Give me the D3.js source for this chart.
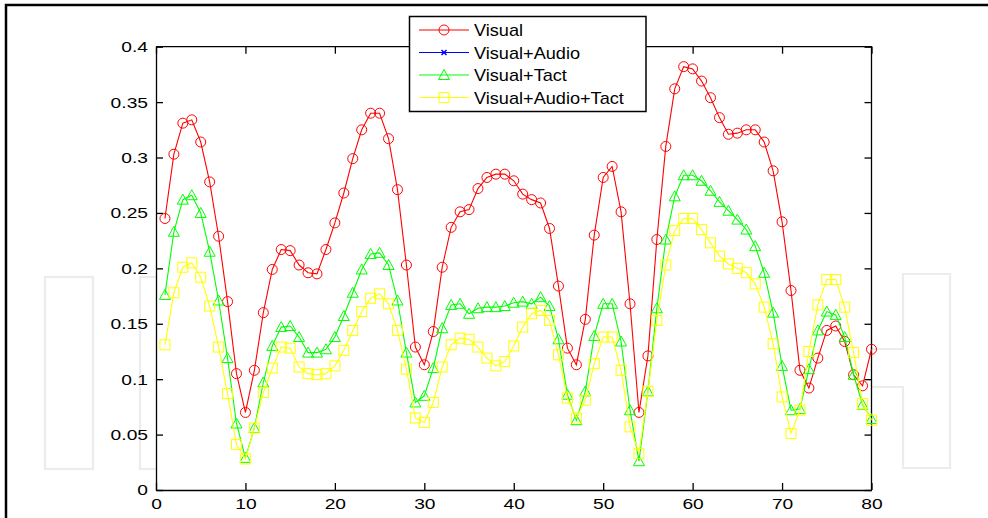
<!DOCTYPE html>
<html><head><meta charset="utf-8">
<script src="https://cdn.jsdelivr.net/npm/d3@7"></script>
<style>
html,body{margin:0;padding:0;background:#fff;}
svg{display:block;}
text{font-family:"Liberation Sans",Arial,sans-serif;fill:#000;}
</style></head>
<body>
<svg id="chart" width="988" height="518"></svg>
<script>
// ---- data ----
const xValues = d3.range(1, 81);
const visual = [0.245,0.303,0.331,0.334,0.314,0.278,0.229,0.170,0.105,0.070,
  0.108,0.160,0.199,0.217,0.216,0.203,0.196,0.195,0.217,0.241,
  0.268,0.299,0.325,0.340,0.340,0.317,0.271,0.203,0.129,0.113,
  0.143,0.201,0.237,0.251,0.253,0.272,0.282,0.285,0.285,0.279,
  0.267,0.262,0.259,0.236,0.184,0.128,0.113,0.154,0.230,0.282,
  0.292,0.251,0.168,0.070,0.121,0.226,0.310,0.362,0.382,0.380,
  0.369,0.354,0.336,0.321,0.322,0.325,0.325,0.314,0.288,0.242,
  0.180,0.108,0.092,0.119,0.144,0.148,0.134,0.104,0.094,0.127];
const visualAudio = []; // drawn in the legend only (not visible in the plot)
const visualTact = [0.176,0.233,0.262,0.266,0.250,0.215,0.171,0.119,0.060,0.029,
  0.056,0.097,0.130,0.147,0.148,0.138,0.124,0.124,0.127,0.138,
  0.157,0.178,0.199,0.213,0.214,0.203,0.171,0.124,0.079,0.085,
  0.110,0.146,0.167,0.168,0.159,0.164,0.165,0.165,0.166,0.169,
  0.170,0.168,0.174,0.166,0.136,0.086,0.063,0.089,0.139,0.168,
  0.168,0.134,0.072,0.026,0.089,0.164,0.226,0.265,0.284,0.284,
  0.279,0.270,0.260,0.252,0.244,0.235,0.220,0.196,0.160,0.112,
  0.072,0.073,0.109,0.144,0.161,0.158,0.138,0.104,0.077,0.064];
const visualAudioTact = [0.131,0.178,0.201,0.205,0.192,0.166,0.129,0.087,0.041,0.028,
  0.056,0.088,0.110,0.129,0.128,0.111,0.105,0.104,0.105,0.112,
  0.126,0.144,0.161,0.173,0.177,0.168,0.144,0.109,0.065,0.061,
  0.079,0.111,0.131,0.137,0.136,0.129,0.119,0.112,0.116,0.130,
  0.147,0.159,0.162,0.153,0.122,0.083,0.065,0.081,0.114,0.138,
  0.138,0.108,0.057,0.033,0.089,0.153,0.203,0.234,0.245,0.245,
  0.235,0.223,0.211,0.204,0.200,0.196,0.186,0.165,0.132,0.084,
  0.051,0.072,0.125,0.167,0.190,0.190,0.165,0.124,0.078,0.063];
const seriesNames = ["Visual","Visual+Audio","Visual+Tact","Visual+Audio+Tact"];
const seriesColors = ["#ff0000","#0000ff","#00ff00","#ffff00"];
const seriesMarkers = ["circle","x","triangle","square"];
const xTicks = [0,10,20,30,40,50,60,70,80];
const yTicks = [0,0.05,0.1,0.15,0.2,0.25,0.3,0.35,0.4];

// ---- layout ----
const svg = d3.select("#chart");
const L = 156, R = 871.5, T = 46.7, B = 490;
const x = d3.scaleLinear().domain([0,80]).range([L,R]);
const y = d3.scaleLinear().domain([0,0.4]).range([B,T]);

// frame
svg.append("rect").attr("width",988).attr("height",518).attr("fill","#fff");
svg.append("path").attr("d","M6,518 V5 H988").attr("fill","none").attr("stroke","#000").attr("stroke-width",2.5);

// faint watermark outlines
const wm = svg.append("g").attr("fill","none").attr("stroke","#ececec").attr("stroke-width",2.2);
wm.append("rect").attr("x",45).attr("y",277).attr("width",48).attr("height",192);
wm.append("rect").attr("x",140).attr("y",277).attr("width",40).attr("height",192);
wm.append("path").attr("d","M860,349 H903 V274 H950 V468 H903 V387 H860");

// plot background
svg.append("rect").attr("x",L).attr("y",T).attr("width",R-L).attr("height",B-T).attr("fill","#fff");

// axes
const fmt = d => String(+d.toFixed(2));
const ax = (g, axis) => { g.call(axis); g.selectAll("path,line").attr("stroke","#000").attr("stroke-width",1.3); };
const gB = svg.append("g").attr("transform",`translate(0,${B})`);
ax(gB, d3.axisBottom(x).tickValues(xTicks).tickSizeInner(-7).tickSizeOuter(0).tickPadding(8).tickFormat(fmt));
const gT = svg.append("g").attr("transform",`translate(0,${T})`);
ax(gT, d3.axisTop(x).tickValues(xTicks).tickSizeInner(-7).tickSizeOuter(0).tickFormat(""));
const gL = svg.append("g").attr("transform",`translate(${L},0)`);
ax(gL, d3.axisLeft(y).tickValues(yTicks).tickSizeInner(-7).tickSizeOuter(0).tickPadding(8).tickFormat(fmt));
const gR = svg.append("g").attr("transform",`translate(${R},0)`);
ax(gR, d3.axisRight(y).tickValues(yTicks).tickSizeInner(-7).tickSizeOuter(0).tickFormat(""));
[gB,gL].forEach(g => g.selectAll("text").attr("font-size",15.5).attr("fill","#000"));
gL.selectAll("text").attr("x",0).attr("transform","translate(-8,0) scale(1.24,1)");
gB.selectAll("text").attr("transform","scale(1.24,1)");
gT.select(".domain").remove(); gR.select(".domain").remove();
svg.append("path").attr("d",`M${L},${T} H${R} V${B}`).attr("fill","none").attr("stroke","#000").attr("stroke-width",1.3);

// markers
function marker(sel, type, color){
  if(type==="circle") sel.append("circle").attr("r",5).attr("fill","none").attr("stroke",color);
  else if(type==="square") sel.append("rect").attr("x",-5).attr("y",-5).attr("width",10).attr("height",10).attr("fill","none").attr("stroke",color);
  else if(type==="triangle") sel.append("path").attr("d","M0,-5.5 L5.5,4.5 L-5.5,4.5 Z").attr("fill","none").attr("stroke",color);
  else if(type==="x") sel.append("path").attr("d","M-2.5,-2.5 L2.5,2.5 M-2.5,2.5 L2.5,-2.5").attr("fill","none").attr("stroke",color).attr("stroke-width",1.5);
}

const seriesData = [visual, visualAudio, visualTact, visualAudioTact];
const line = d3.line().x((d,i)=>x(xValues[i])).y(d=>y(d));
seriesData.forEach((vals, s) => {
  if(!vals.length) return;
  const g = svg.append("g");
  g.append("path").attr("d", line(vals)).attr("fill","none").attr("stroke",seriesColors[s]).attr("stroke-width",1.1);
  vals.forEach((v,i) => {
    const m = g.append("g").attr("transform",`translate(${x(xValues[i])},${y(v)})`);
    marker(m, seriesMarkers[s], seriesColors[s]);
  });
});

// legend
const lg = svg.append("g");
lg.append("rect").attr("x",409.5).attr("y",16.5).attr("width",236.5).attr("height",95).attr("fill","#fff").attr("stroke","#000").attr("stroke-width",1.5);
const rowY = [30, 52.5, 75, 97.5];
seriesNames.forEach((name, s) => {
  const yy = rowY[s];
  lg.append("line").attr("x1",419).attr("x2",469).attr("y1",yy).attr("y2",yy).attr("stroke",seriesColors[s]).attr("stroke-width",1.1);
  marker(lg.append("g").attr("transform",`translate(444,${yy})`), seriesMarkers[s], seriesColors[s]);
  lg.append("text").attr("transform",`translate(474,${yy+6}) scale(1.08,1)`).attr("font-size",16.8).text(name);
});
</script>
</body></html>
